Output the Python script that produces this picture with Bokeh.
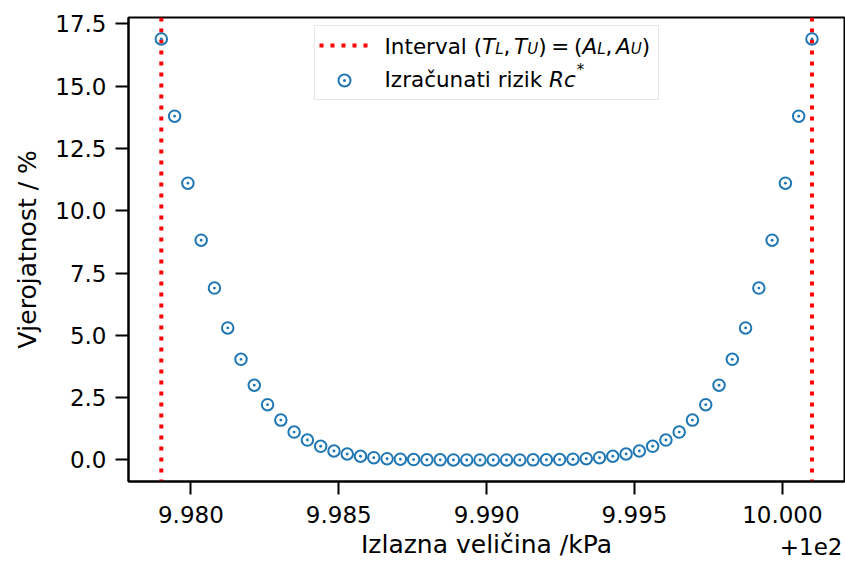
from bokeh.plotting import figure
from bokeh.models import (Range1d, FixedTicker, CustomJSTickFormatter, Span,
                          Legend, LegendItem, Label, LinearAxis)
from bokeh.embed import file_html
from bokeh.resources import INLINE

# ---- data (kPa, %) ----
x_kpa = [109.979000, 109.979449, 109.979898, 109.980347, 109.980796, 109.981245,
         109.981694, 109.982143, 109.982592, 109.983041, 109.983490, 109.983939,
         109.984388, 109.984837, 109.985286, 109.985735, 109.986184, 109.986633,
         109.987082, 109.987531, 109.987980, 109.988429, 109.988878, 109.989327,
         109.989776, 109.990224, 109.990673, 109.991122, 109.991571, 109.992020,
         109.992469, 109.992918, 109.993367, 109.993816, 109.994265, 109.994714,
         109.995163, 109.995612, 109.996061, 109.996510, 109.996959, 109.997408,
         109.997857, 109.998306, 109.998755, 109.999204, 109.999653, 110.000102,
         110.000551, 110.001000]
risk_pct = [16.90, 13.80, 11.11, 8.82, 6.90, 5.30, 4.04, 3.00, 2.22, 1.60,
            1.12, 0.80, 0.55, 0.36, 0.24, 0.15, 0.09, 0.05, 0.03, 0.015,
            0.008, 0.004, 0.002, 0.001, 0.0005,
            0.0005, 0.001, 0.002, 0.004, 0.008, 0.015, 0.03, 0.05, 0.09, 0.15,
            0.24, 0.36, 0.55, 0.80, 1.12, 1.60, 2.22, 3.00, 4.04, 5.30,
            6.90, 8.82, 11.11, 13.80, 16.90]
interval = [109.979, 110.001]          # (T_L, T_U) = (A_L, A_U)
x_ticks = [109.980, 109.985, 109.990, 109.995, 110.000]
y_ticks = [0.0, 2.5, 5.0, 7.5, 10.0, 12.5, 15.0, 17.5]
x_offset_label = "+1e2"
x_label = "Izlazna veličina /kPa"
y_label = "Vjerojatnost / %"

FONT = "DejaVu Sans"
BLUE = "#1f77b4"
FW, FH = 716, 464
X0, X1 = 109.97789, 110.0021

p = figure(frame_width=FW, frame_height=FH,
           x_range=Range1d(X0, X1), y_range=Range1d(-0.864, 17.76),
           output_backend="svg", toolbar_location=None,
           min_border_left=128, min_border_right=1, min_border_top=17,
           min_border_bottom=80)

p.xgrid.grid_line_color = None
p.ygrid.grid_line_color = None
p.outline_line_color = "black"
p.outline_line_width = 2
p.background_fill_color = "white"
p.border_fill_color = "white"

# interval lines
for loc in interval:
    p.add_layout(Span(location=loc, dimension="height", line_color="red",
                      line_width=4, line_dash="4 7", line_cap="butt",
                      level="underlay"))
legend_line = p.line(x=interval, y=[float("nan"), float("nan")], line_color="red",
                     line_width=4, line_dash="4 7", line_cap="butt")

pts = p.scatter(x=x_kpa, y=risk_pct, marker="circle_dot", size=11.5,
                line_color=BLUE, line_width=2, fill_color=None)

# axes
for ax in (p.xaxis[0], p.yaxis[0]):
    ax.major_label_text_font = FONT
    ax.major_label_text_font_size = "23px"
    ax.major_label_text_color = "black"
    ax.axis_label_text_font = FONT
    ax.axis_label_text_font_size = "25px"
    ax.axis_label_text_font_style = "normal"
    ax.axis_label_text_color = "black"
    ax.major_tick_out = 13
    ax.major_tick_in = 0
    ax.major_tick_line_width = 2
    ax.major_tick_line_color = "black"
    ax.minor_tick_line_color = None
    ax.axis_line_width = 2
    ax.axis_line_color = "black"
    ax.major_label_standoff = 9

p.xaxis.ticker = FixedTicker(ticks=x_ticks)
p.xaxis.formatter = CustomJSTickFormatter(code="return (tick - 100).toFixed(3);")
p.xaxis.major_label_standoff = 11
p.yaxis.ticker = FixedTicker(ticks=y_ticks)
p.yaxis.formatter = CustomJSTickFormatter(code="return tick.toFixed(1);")
p.yaxis.axis_label = y_label
p.yaxis.axis_label_standoff = 10

# second (bottom) axis row: x label + offset text "+1e2" on one line
px_per_unit = FW / (X1 - X0)
offset_w = 2.725 * 23
offset_tick = X1 - (2 + offset_w / 2) / px_per_unit
ax2 = LinearAxis(ticker=FixedTicker(ticks=[offset_tick]),
                 formatter=CustomJSTickFormatter(args=dict(lbl=x_offset_label),
                                                 code="return lbl;"),
                 axis_line_color=None, major_tick_line_color=None,
                 minor_tick_line_color=None, major_tick_out=0, major_tick_in=0,
                 major_label_standoff=12,
                 major_label_text_font=FONT, major_label_text_font_size="23px",
                 major_label_text_color="black",
                 axis_label=x_label, axis_label_standoff=-28,
                 axis_label_text_font=FONT, axis_label_text_font_size="25px",
                 axis_label_text_font_style="normal", axis_label_text_color="black")
p.add_layout(ax2, "below")

# legend box + glyphs
LEG_W, LEG_H = 343, 73
legend = Legend(items=[
    LegendItem(label=" ", renderers=[legend_line]),
    LegendItem(label=" ", renderers=[pts]),
], location=(186, FH - 10 - LEG_H))
legend.label_text_font_size = "10px"
legend.glyph_width = 50
legend.glyph_height = 30
legend.label_height = 30
legend.label_standoff = 4
legend.label_width = LEG_W - 8 - 50 - 4
legend.spacing = 5
legend.padding = 4
legend.margin = 0
legend.border_line_color = "#d0d0d0"
legend.border_line_width = 1.5
legend.background_fill_alpha = 0
p.add_layout(legend)

# legend texts (mathtext-like pieces)
F = 21.5
W = {'I': .295, 'n': .634, 't': .392, 'e': .615, 'r': .411, 'v': .592, 'a': .613,
     'l': .278, ' ': .318, '(': .390, ')': .390, ',': .318, '=': .838, 'T': .611,
     'L': .557, 'U': .732, 'A': .684, 'z': .525, 'č': .550, 'c': .550, 'u': .634,
     'i': .278, 'k': .579, 'R': .695, '*': .500}


def place(pieces, x0, baseline):
    x = x0
    for text, italic, scale, dy, gap in pieces:
        size = F * scale
        p.add_layout(Label(x=x, y=FH - baseline + dy * F, x_units="screen",
                           y_units="screen", text=text, text_align="left",
                           text_baseline="alphabetic", text_font=FONT,
                           text_font_size=f"{size:.1f}px",
                           text_font_style="italic" if italic else "normal",
                           text_color="black"))
        x += sum(W[c] for c in text) * size + gap * F


SUB = -0.13
row1 = [("Interval (", False, 1, 0, 0), ("T", True, 1, 0, 0), ("L", True, .7, SUB, 0),
        (",", False, 1, 0, .17), ("T", True, 1, 0, 0), ("U", True, .7, SUB, 0),
        (")", False, 1, 0, .22), ("=", False, 1, 0, .22), ("(", False, 1, 0, 0),
        ("A", True, 1, 0, 0), ("L", True, .7, SUB, 0), (",", False, 1, 0, .17),
        ("A", True, 1, 0, 0), ("U", True, .7, SUB, 0), (")", False, 1, 0, 0)]
row2 = [("Izračunati rizik ", False, 1, 0, 0), ("Rc", True, 1, 0, .05),
        ("*", False, .7, .42, 0)]
place(row1, 256, 28.5)
place(row2, 256, 62)

open("out.html", "w").write(file_html(p, INLINE))
